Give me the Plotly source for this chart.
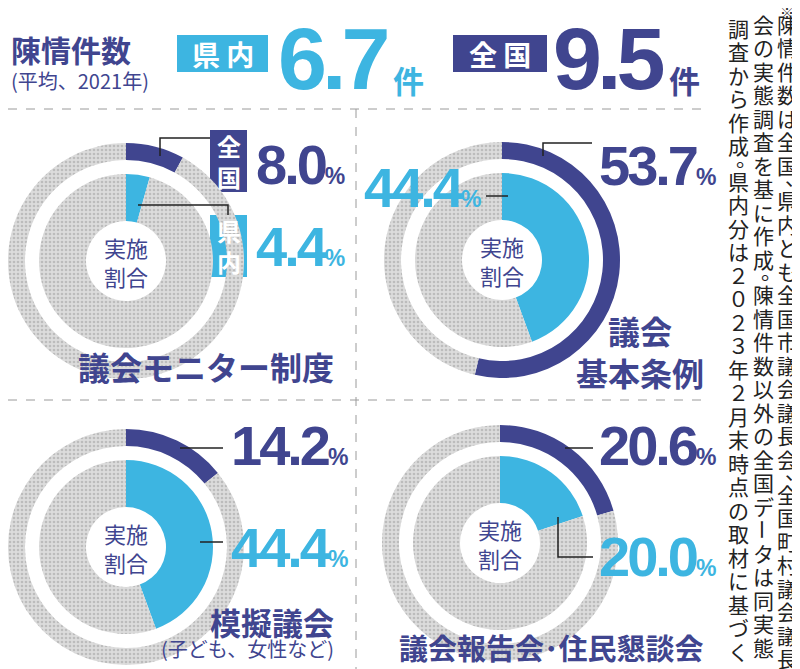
import plotly.graph_objects as go

W, H = 800, 669
OFF = 8                      # page body margin of the browser
FW, FH = W - OFF, H - OFF    # figure size so the page does not overflow

# ---------------- data ----------------
petition_labels = ["県 内", "全 国"]
petition_counts = [6.7, 9.5]
petition_unit = "件"
petition_title = "陳情件数"
petition_sub = "(平均、2021年)"

panel_titles = ["議会モニター制度", "議会<br>基本条例", "模擬議会", "議会報告会･住民懇談会"]
panel_subtitles = ["", "", "(子ども、女性など)", ""]
national_pct = [8.0, 53.7, 14.2, 20.6]
pref_pct = [4.4, 44.4, 44.4, 20.0]
center_label = "実施<br>割合"

note_mark = "※"
note_columns = [
    "陳情件数は全国、県内とも全国市議会議長会、全国町村議会議長",
    "会の実態調査を基に作成。陳情件数以外の全国データは同実態",
    "調査から作成。県内分は２０２３年２月末時点の取材に基づく",
]

# ---------------- style / layout ----------------
NAVY = "#40458f"
BLUE = "#3db5e1"
GRAY_BG = "#dcdcdc"
GRAY_FG = "#bcbcbc"
JP = "Noto Sans CJK JP"
NUM = "Liberation Sans, Arial, sans-serif"

centers = [(126, 261), (502, 260), (126, 547), (500, 543)]
R_OUT, R_RING_IN = 118, 101
R_IN, R_HOLE = 87, 40

fig = go.Figure()

def clamp(v):
    return min(1.0, max(0.0, v))

def add_donut(cx, cy, r, hole, v, col):
    fig.add_trace(go.Pie(
        values=[v, 100 - v], sort=False, direction="clockwise", rotation=0,
        hole=hole,
        domain=dict(x=[clamp((cx - r - OFF) / FW), clamp((cx + r - OFF) / FW)],
                    y=[clamp(1 - (cy + r - OFF) / FH), clamp(1 - (cy - r - OFF) / FH)]),
        marker=dict(colors=[col, GRAY_BG], line=dict(width=0),
                    pattern=dict(shape=["", "."], fgcolor=[col, GRAY_FG],
                                 bgcolor=[col, GRAY_BG], size=4, solidity=0.35)),
        textinfo="none", hoverinfo="skip", showlegend=False))

for i, (cx, cy) in enumerate(centers):
    add_donut(cx, cy, R_OUT, R_RING_IN / R_OUT, national_pct[i], NAVY)
    add_donut(cx, cy, R_IN, R_HOLE / R_IN, pref_pct[i], BLUE)

# invisible pixel axes (screen pixels) for annotations / shapes
fig.add_trace(go.Scatter(x=[], y=[], showlegend=False))
fig.update_layout(
    width=FW, height=FH, margin=dict(l=0, r=0, t=0, b=0),
    paper_bgcolor="white", plot_bgcolor="rgba(0,0,0,0)",
    xaxis=dict(range=[OFF, W], visible=False, fixedrange=True, domain=[0, 1]),
    yaxis=dict(range=[H, OFF], visible=False, fixedrange=True, domain=[0, 1]),
)

shapes = []
ann = []

def text(x, y, t, size, color, family=JP, weight="normal", xanchor="center",
         yanchor="middle", angle=0, align="center"):
    ann.append(dict(x=x, y=y, xref="x", yref="y", text=t, showarrow=False,
                    xanchor=xanchor, yanchor=yanchor, textangle=angle, align=align,
                    font=dict(family=family, size=size, color=color, weight=weight)))

def num(x, y, t, size, color, xanchor="left", spacing=-3):
    text(x, y, f"<span style='letter-spacing:{spacing}px'>{t}</span>", size, color,
         family=NUM, weight="bold", xanchor=xanchor)

def rect(x0, y0, x1, y1, col):
    shapes.append(dict(type="rect", xref="x", yref="y", x0=x0, y0=y0, x1=x1, y1=y1,
                       fillcolor=col, line=dict(width=0), layer="below"))

def path(pts, col="#222", w=1.5, dash="solid"):
    d = "M " + " L ".join(f"{x} {y}" for x, y in pts)
    shapes.append(dict(type="path", xref="x", yref="y", path=d,
                       line=dict(color=col, width=w, dash=dash), layer="above"))

# separators
path([(OFF, 109), (705, 109)], "#9a9a9a", 1, "dash")
path([(OFF, 400), (705, 400)], "#9a9a9a", 1, "dash")
path([(356, 109), (356, 669)], "#9a9a9a", 1, "dash")

# ---------- header ----------
text(9, 49, petition_title, 30, NAVY, weight="bold", xanchor="left")
text(9, 80, petition_sub, 20, NAVY, xanchor="left")
hdr_cols = [BLUE, NAVY]
hdr_boxes = [(177, 35, 268, 72), (453, 35, 547, 72)]
hdr_num_right = [389, 665]
for k in range(2):
    x0, y0, x1, y1 = hdr_boxes[k]
    rect(x0, y0, x1, y1, hdr_cols[k])
    text((x0 + x1) / 2, (y0 + y1) / 2, petition_labels[k], 28, "white", weight="bold")
    num(hdr_num_right[k], 58.5, f"{petition_counts[k]:.1f}", 88, hdr_cols[k],
        xanchor="right", spacing=-5)
    text(hdr_num_right[k] + 2, 79, petition_unit, 31, hdr_cols[k], weight="bold", xanchor="left")

# ---------- panels ----------
NUM_SIZE = 56

def pct(v):
    return f"{v:.1f}<span style='font-size:{int(NUM_SIZE*0.42)}px'>%</span>"

for i, (cx, cy) in enumerate(centers):
    text(cx, cy, center_label, 22, NAVY)

nat_pos = [(254, 164, "left"), (597, 165, "left"), (229, 445, "left"), (597, 445, "left")]
pref_pos = [(254, 246, "left"), (483, 187, "right"), (229, 547, "left"), (597, 556, "left")]
for i in range(4):
    x, y, a = nat_pos[i]
    num(x, y, pct(national_pct[i]), NUM_SIZE, NAVY, xanchor=a)
    x, y, a = pref_pos[i]
    num(x, y, pct(pref_pct[i]), NUM_SIZE, BLUE, xanchor=a)

# panel 1 vertical tag boxes
rect(210, 130, 247, 192, NAVY)
text(228.5, 161, "全<br>国", 24, "white", weight="bold")
rect(210, 215, 247, 277, BLUE)
text(228.5, 246, "県<br>内", 24, "white", weight="bold")

# leader lines
path([(160, 156), (160, 138), (210, 138)])
path([(138, 205), (228, 205), (228, 215)])
path([(543, 156), (543, 143), (592, 143)])
path([(486, 196), (508, 196)])
path([(180, 448), (223, 448)])
path([(200, 542), (223, 542)])
path([(565, 448), (593, 448)])
path([(558, 517), (558, 557), (593, 557)])

# titles
text(336, 366, panel_titles[0], 32, NAVY, weight="bold", xanchor="right")
text(706, 351, panel_titles[1], 32, NAVY, weight="bold", xanchor="right")
text(336, 621, panel_titles[2], 31, NAVY, weight="bold", xanchor="right")
text(336, 648, panel_subtitles[2], 20, NAVY, xanchor="right")
text(706, 647, panel_titles[3], 29, NAVY, weight="bold", xanchor="right")

# ---------- vertical note (one glyph per cell, top to bottom) ----------
FS = 21
PITCH = 23.5
col_x = [787, 763, 738]
col_top = [12, 12, 16]
text(col_x[0], 12, note_mark, 14, "#222")
for c, s in enumerate(note_columns):
    cursor = col_top[c]
    for ch in s:
        half = ch in "、。"
        h = PITCH * (0.5 if half else 1.0)
        yc = cursor + h / 2
        if half:
            text(col_x[c] + 0.4 * FS, yc - 0.3 * FS, ch, FS, "#222")
        elif ch == "ー":
            text(col_x[c], yc, ch, FS, "#222", angle=90)
        else:
            text(col_x[c], yc, ch, FS, "#222")
        cursor += h

fig.update_layout(shapes=shapes, annotations=ann)
fig.write_html("out.html")
